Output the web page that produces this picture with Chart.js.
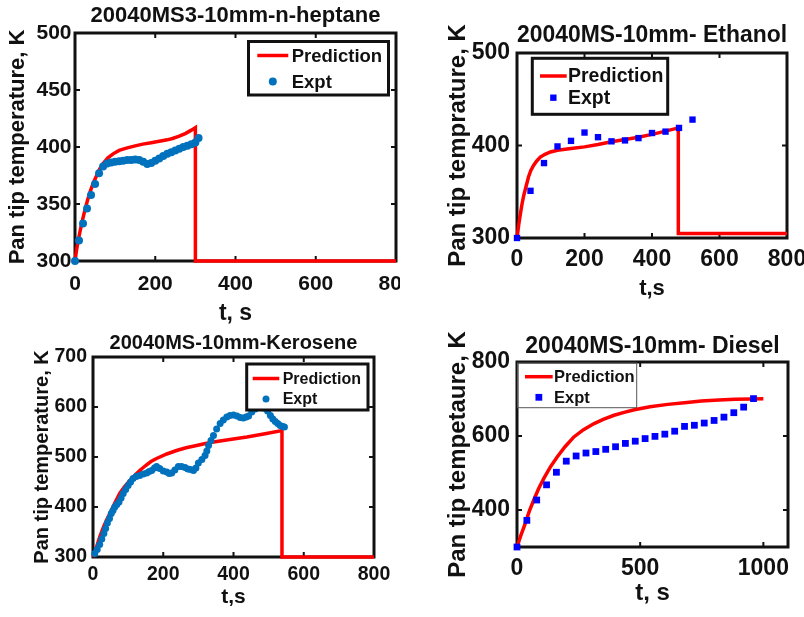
<!DOCTYPE html>
<html>
<head>
<meta charset="utf-8">
<script src="https://cdn.jsdelivr.net/npm/chart.js@4.4.1/dist/chart.umd.min.js"></script>
<style>
  body { margin: 0; background: #fff; }
  #fig { position: relative; width: 804px; height: 617px; overflow: hidden; }
  .panel { position: absolute; }
</style>
</head>
<body>
<div id="fig">
  <div class="panel" style="left:0;top:0;width:400px;height:327px"><canvas id="cHeptane"></canvas></div>
  <div class="panel" style="left:440px;top:0;width:364px;height:302px"><canvas id="cEthanol"></canvas></div>
  <div class="panel" style="left:0;top:325px;width:400px;height:285px"><canvas id="cKerosene"></canvas></div>
  <div class="panel" style="left:440px;top:310px;width:364px;height:298px"><canvas id="cDiesel"></canvas></div>
</div>
<script>
// n-heptane
const heptanePredTime = [0, 4, 8, 12, 18, 25, 31, 37, 45, 54, 62, 70, 82, 95, 110, 128, 150, 169, 190, 210, 230, 243, 260, 276, 290, 300, 300, 800];
const heptanePredTemp = [300, 310, 318, 325, 335, 345, 353, 360, 368, 375, 381, 385.5, 390.5, 394, 397, 399, 401, 402.5, 403.8, 405, 406.3, 407.5, 409.5, 412, 414.8, 417, 300, 300];
const heptaneExptTime = [0, 10, 20, 30, 40, 50, 60, 70, 80, 90, 100, 110, 120, 130, 140, 150, 160, 170, 180, 190, 200, 210, 220, 230, 240, 250, 260, 270, 280, 290, 300, 308];
const heptaneExptTemp = [300, 318, 333, 346, 358, 367.5, 377, 383, 385.5, 386.5, 387, 387.5, 388, 388.5, 388.5, 389, 388.5, 387, 385, 386, 388, 390, 392, 394, 395.5, 397, 398.5, 400, 401, 402.5, 404, 408];
const heptaneXTicks = [0, 200, 400, 600, 800];
const heptaneYTicks = [300, 350, 400, 450, 500];

// ethanol
const ethanolPredTime = [0, 5, 10, 15, 20, 27, 34, 41, 49, 58, 69, 83, 99, 120, 160, 200, 240, 280, 320, 360, 400, 440, 478, 478, 800];
const ethanolPredTemp = [300, 314, 326, 337, 346, 356, 366, 373, 378.5, 383, 387.5, 390.5, 393, 394.8, 396.8, 398.5, 401, 404, 406.5, 409, 412, 415.5, 419, 305, 305];
const ethanolExptTime = [0, 40, 80, 120, 160, 200, 240, 280, 320, 360, 400, 440, 480, 520];
const ethanolExptTemp = [300, 351, 381, 399, 405, 414, 409, 404.5, 405.5, 408, 413.5, 415, 419, 428];
const ethanolXTicks = [0, 200, 400, 600, 800];
const ethanolYTicks = [300, 400, 500];

// kerosene
const kerosenePredTime = [0, 5, 10, 19, 30, 40, 48, 60, 76, 90, 105, 120, 133, 150, 165, 181, 210, 238, 265, 295, 320, 343, 390, 438, 490, 538, 538, 800];
const kerosenePredTemp = [300, 310, 320, 340, 360, 376, 387, 405, 427, 441, 453, 464, 473, 483, 491, 497, 506, 513, 518.5, 523, 527, 530, 535, 540, 546.5, 553, 300, 300];
const keroseneExptTime = [5, 12, 19, 25, 31, 36, 41, 47, 52, 57, 62, 68, 74, 80, 86, 93, 100, 107, 114, 123, 133, 143, 153, 160, 167, 175, 181, 190, 200, 210, 217, 224, 233, 243, 252, 262, 270, 278, 286, 293, 300, 310, 319, 324, 329, 336, 343, 352, 362, 371, 381, 390, 400, 410, 419, 428, 436, 443, 452, 462, 472, 485, 497, 505, 512, 519, 526, 533, 540, 545];
const keroseneExptTemp = [307, 315, 325, 336, 347, 357, 368, 377, 387, 393, 400, 405, 410, 418, 427, 435, 443, 450, 457, 461, 463, 466, 468, 471, 473, 478, 481, 477, 472, 470, 467, 468, 474, 481, 481, 479, 476, 475, 473, 478, 488, 495, 503, 512, 523, 533, 543, 556, 567, 574, 580, 583, 584, 582, 579, 578, 580, 582, 590, 596, 600, 598, 592, 583, 576, 571, 567, 563, 561, 560];
const keroseneXTicks = [0, 200, 400, 600, 800];
const keroseneYTicks = [300, 400, 500, 600, 700];

// diesel
const dieselPredTime = [0, 15, 34, 50, 68, 88, 109, 135, 163, 195, 231, 270, 313, 350, 394, 435, 476, 540, 612, 680, 748, 820, 884, 950, 1000];
const dieselPredTemp = [300, 330, 364.5, 397, 427, 458, 485.5, 516, 543.5, 571, 597.5, 617, 633.5, 645, 656, 664, 671, 679, 685.5, 690, 694.5, 697, 699, 700, 701];
const dieselExptTime = [0, 40, 80, 120, 160, 200, 240, 280, 320, 360, 400, 440, 480, 520, 560, 600, 640, 680, 720, 760, 800, 840, 880, 920, 960];
const dieselExptTemp = [300, 372, 427, 468, 502, 532, 546, 554, 558, 564, 571, 580, 586, 593, 599, 605, 613, 626, 629, 635, 642, 651, 663, 678, 701];
const dieselXTicks = [0, 500, 1000];
const dieselYTicks = [400, 600, 800];

const FONT = '"Liberation Sans", Arial, sans-serif';
const INK = '#111';

function pts(xs, ys) {
    return xs.map((x, i) => ({x: x, y: ys[i]}));
}

// matlab style box round the axes, ticks pointing inwards
const frameBox = {
    id: 'frameBox',
    beforeDatasetsDraw(chart, args, o) {
        const c = chart.ctx, a = chart.chartArea, sx = chart.scales.x, sy = chart.scales.y;
        c.save();
        c.strokeStyle = INK;
        c.lineWidth = 2;
        c.beginPath();
        sx.ticks.forEach(t => {
            const px = sx.getPixelForValue(t.value);
            c.moveTo(px, a.bottom); c.lineTo(px, a.bottom - 5);
            c.moveTo(px, a.top); c.lineTo(px, a.top + 5);
        });
        sy.ticks.forEach(t => {
            const py = sy.getPixelForValue(t.value);
            c.moveTo(a.left, py); c.lineTo(a.left + 5, py);
            c.moveTo(a.right, py); c.lineTo(a.right - 5, py);
        });
        c.stroke();
        c.lineWidth = 3;
        c.strokeRect(a.left, a.top, a.right - a.left, a.bottom - a.top);
        c.restore();
    }
};

// legend with a frame, drawn inside the axes
const legendBox = {
    id: 'legendBox',
    afterDatasetsDraw(chart, args, o) {
        const c = chart.ctx;
        c.save();
        if (o.fill) {
            c.fillStyle = o.fill;
            c.fillRect(o.x, o.y, o.w, o.h);
        }
        c.lineWidth = o.border;
        c.strokeStyle = o.borderColor;
        c.strokeRect(o.x, o.y, o.w, o.h);
        c.font = o.font;
        c.textBaseline = 'middle';
        c.textAlign = 'left';
        chart.data.datasets.forEach((ds, i) => {
            const cy = o.rows[i];
            const mid = (o.sym[0] + o.sym[1]) / 2;
            if (ds.showLine) {
                c.strokeStyle = ds.borderColor;
                c.lineWidth = ds.borderWidth;
                c.beginPath();
                c.moveTo(o.sym[0], cy);
                c.lineTo(o.sym[1], cy);
                c.stroke();
            } else {
                c.fillStyle = ds.pointBackgroundColor;
                c.beginPath();
                if (ds.pointStyle === 'rect') {
                    const h = ds.pointRadius * Math.SQRT1_2;
                    c.rect(mid - h, cy - h, 2 * h, 2 * h);
                } else {
                    c.arc(mid, cy, ds.pointRadius, 0, Math.PI * 2);
                }
                c.fill();
            }
            c.fillStyle = INK;
            c.fillText(ds.label, o.textX, cy + 1);
        });
        c.restore();
    }
};

function makePanel(id, p) {
    const ctx = document.getElementById(id).getContext('2d');
    return new Chart(ctx, {
        type: 'scatter',
        data: {
            datasets: [
                {
                    label: 'Prediction',
                    data: pts(p.predT, p.predK),
                    showLine: true,
                    borderColor: '#ff0000',
                    borderWidth: 3.5,
                    pointRadius: 0,
                    tension: 0,
                    clip: 6,
                    order: 1
                },
                {
                    label: 'Expt',
                    data: pts(p.exptT, p.exptK),
                    showLine: false,
                    pointStyle: p.marker,
                    pointRadius: p.markerR,
                    pointBackgroundColor: p.blue,
                    backgroundColor: p.blue,
                    pointBorderWidth: 0,
                    clip: 6,
                    order: 0
                }
            ]
        },
        options: {
            animation: false,
            responsive: true,
            maintainAspectRatio: false,
            events: [],
            layout: {padding: {left: 0, top: 0, right: p.padRight, bottom: 0}},
            plugins: {
                legend: {display: false},
                tooltip: {enabled: false},
                title: {
                    display: true,
                    text: p.title,
                    fullSize: false,
                    color: INK,
                    font: {family: FONT, size: p.titleSize, weight: 'bold', lineHeight: 1.2},
                    padding: {top: p.titlePad[0], bottom: p.titlePad[1]}
                },
                legendBox: p.legend
            },
            scales: {
                x: {
                    type: 'linear',
                    min: p.xMin,
                    max: p.xMax,
                    grid: {display: false, drawTicks: false},
                    border: {display: false},
                    afterBuildTicks: s => { s.ticks = p.xTicks.map(v => ({value: v})); },
                    afterFit: s => { s.height = p.marginBottom; s.paddingLeft = 0; s.paddingRight = 0; },
                    ticks: {
                        autoSkip: false, maxRotation: 0, padding: p.xTickPad, color: INK,
                        font: {family: FONT, size: p.tickSize, weight: 'bold', lineHeight: 1.2},
                        callback: v => String(v)
                    },
                    title: {
                        display: true, text: p.xTitle, color: INK,
                        font: {family: FONT, size: p.xTitleSize, weight: 'bold', lineHeight: 1.2},
                        padding: {top: 0, bottom: 0}
                    }
                },
                y: {
                    type: 'linear',
                    min: p.yMin,
                    max: p.yMax,
                    grid: {display: false, drawTicks: false},
                    border: {display: false},
                    afterBuildTicks: s => { s.ticks = p.yTicks.map(v => ({value: v})); },
                    afterFit: s => { s.width = p.marginLeft; s.paddingTop = 0; s.paddingBottom = 0; },
                    ticks: {
                        autoSkip: false, padding: p.yTickPad, color: INK,
                        font: {family: FONT, size: p.tickSize, weight: 'bold', lineHeight: 1.2},
                        callback: v => String(v)
                    },
                    title: {
                        display: true, text: p.yTitle, color: INK,
                        font: {family: FONT, size: p.yTitleSize, weight: 'bold', lineHeight: 1.2},
                        padding: {top: p.yTitlePad, bottom: 0}
                    }
                }
            }
        },
        plugins: [frameBox, legendBox]
    });
}

makePanel('cHeptane', {
    title: '20040MS3-10mm-n-heptane', titleSize: 22, titlePad: [2.8, 3.8],
    predT: heptanePredTime, predK: heptanePredTemp,
    exptT: heptaneExptTime, exptK: heptaneExptTemp,
    marker: 'circle', markerR: 4, blue: '#0072bd',
    xMin: 0, xMax: 800, xTicks: heptaneXTicks,
    yMin: 300, yMax: 500, yTicks: heptaneYTicks,
    marginLeft: 75, marginBottom: 66, padRight: 2,
    tickSize: 21, xTickPad: 10.5, yTickPad: 3.5,
    xTitle: 't, s', xTitleSize: 23,
    yTitle: 'Pan tip temperature, K', yTitleSize: 22, yTitlePad: 4.8,
    legend: {x: 248.5, y: 41.5, w: 140, h: 53.5, border: 3, borderColor: INK, fill: '#fff',
             font: 'bold 18.5px ' + FONT, rows: [55.5, 81.5], sym: [257.3, 288.3], textX: 291.7}
});

makePanel('cEthanol', {
    title: '20040MS-10mm- Ethanol', titleSize: 23, titlePad: [22.2, 3.2],
    predT: ethanolPredTime, predK: ethanolPredTemp,
    exptT: ethanolExptTime, exptK: ethanolExptTemp,
    marker: 'rect', markerR: 4.5, blue: '#0000ff',
    xMin: 0, xMax: 800, xTicks: ethanolXTicks,
    yMin: 300, yMax: 500, yTicks: ethanolYTicks,
    marginLeft: 77, marginBottom: 64, padRight: 17,
    tickSize: 23, xTickPad: 8.2, yTickPad: 7,
    xTitle: 't,s', xTitleSize: 22,
    yTitle: 'Pan tip temprature, K', yTitleSize: 24, yTitlePad: 3.6,
    legend: {x: 92.3, y: 58.3, w: 135.4, h: 56, border: 3, borderColor: INK, fill: '#fff',
             font: 'bold 19.5px ' + FONT, rows: [76, 97.7], sym: [100, 126.7], textX: 128}
});

makePanel('cKerosene', {
    title: '20040MS-10mm-Kerosene', titleSize: 20, titlePad: [6, 2],
    predT: kerosenePredTime, predK: kerosenePredTemp,
    exptT: keroseneExptTime, exptK: keroseneExptTemp,
    marker: 'circle', markerR: 3.5, blue: '#0072bd',
    xMin: 0, xMax: 800, xTicks: keroseneXTicks,
    yMin: 300, yMax: 700, yTicks: keroseneYTicks,
    marginLeft: 93, marginBottom: 53, padRight: 26,
    tickSize: 19.5, xTickPad: 6.3, yTickPad: 6,
    xTitle: 't,s', xTitleSize: 21,
    yTitle: 'Pan tip temperature, K', yTitleSize: 20, yTitlePad: 30.5,
    legend: {x: 246.7, y: 39, w: 121.3, h: 46, border: 3, borderColor: INK, fill: '#fff',
             font: 'bold 16px ' + FONT, rows: [53.5, 74], sym: [252.7, 279.3], textX: 282.7}
});

makePanel('cDiesel', {
    title: '20040MS-10mm- Diesel', titleSize: 23, titlePad: [22.9, 1.5],
    predT: dieselPredTime, predK: dieselPredTemp,
    exptT: dieselExptTime, exptK: dieselExptTemp,
    marker: 'rect', markerR: 4.8, blue: '#0000ff',
    xMin: 0, xMax: 1100, xTicks: dieselXTicks,
    yMin: 300, yMax: 800, yTicks: dieselYTicks,
    marginLeft: 77, marginBottom: 61, padRight: 16,
    tickSize: 23, xTickPad: 7.5, yTickPad: 7,
    xTitle: 't, s', xTitleSize: 24,
    yTitle: 'Pan tip tempetaure, K', yTitleSize: 24, yTitlePad: 3.9,
    legend: {x: 77.5, y: 53, w: 119.2, h: 44.7, border: 1, borderColor: '#555', fill: null,
             font: 'bold 16.5px ' + FONT, rows: [66.7, 87.3], sym: [85, 112.7], textX: 114}
});
</script>
</body>
</html>
